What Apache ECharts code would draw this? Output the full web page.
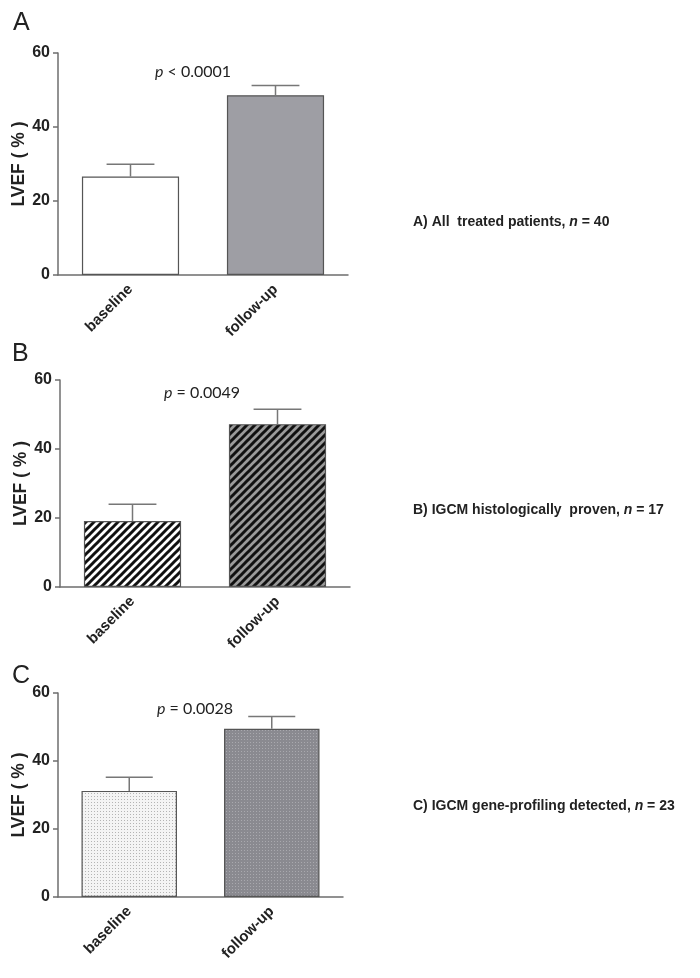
<!DOCTYPE html>
<html>
<head>
<meta charset="utf-8">
<script src="https://cdn.jsdelivr.net/npm/echarts@6/dist/echarts.min.js"></script>
<style>
html,body{margin:0;padding:0;background:#fff;}
#chart{width:700px;height:978px;}
</style>
</head>
<body>
<div id="chart"></div>
<script>
// ---- data ----
const categories = ['baseline', 'follow-up'];
const meanA = [26.6, 48.6];
const upperA = [29.9, 51.2];
const meanB = [19.1, 47.2];
const upperB = [24.0, 51.5];
const meanC = [31.2, 49.5];
const upperC = [35.2, 53.1];
const yTicks = [0, 20, 40, 60];
const yTitle = 'LVEF ( % )';
const pLabels = [' < 0.0001', ' = 0.0049', ' = 0.0028'];
const panelLetters = ['A', 'B', 'C'];
const sideLabels = [
  ['A) All  treated patients, ', ' = 40'],
  ['B) IGCM histologically  proven, ', ' = 17'],
  ['C) IGCM gene-profiling detected, ', ' = 23']
];

// ---- patterns ----
function hatch(bg, fg) {
  const c = document.createElement('canvas');
  c.width = 8; c.height = 8;
  const g = c.getContext('2d');
  g.fillStyle = bg; g.fillRect(0, 0, 8, 8);
  g.strokeStyle = fg; g.lineWidth = 3;
  for (const k of [-8, 0, 8]) {
    g.beginPath(); g.moveTo(k - 3, 11); g.lineTo(k + 11, -3); g.stroke();
  }
  return c;
}
function dots(bg, fg) {
  const c = document.createElement('canvas');
  c.width = 3; c.height = 3;
  const g = c.getContext('2d');
  g.fillStyle = bg; g.fillRect(0, 0, 3, 3);
  g.fillStyle = fg; g.fillRect(1, 1, 1, 1);
  return c;
}
const fills = [
  ['#ffffff', '#9e9ea4'],
  [{image: hatch('#ffffff', '#111111'), repeat: 'repeat'}, {image: hatch('#9a9a9a', '#111111'), repeat: 'repeat'}],
  [{image: dots('#f4f4f4', '#b4b4b4'), repeat: 'repeat'}, {image: dots('#8a8a90', '#a9a9ae'), repeat: 'repeat'}]
];

const grids = [
  {left: 58, width: 290, top: 53, height: 222},
  {left: 60, width: 290, top: 380, height: 207},
  {left: 58, width: 285, top: 693, height: 204}
];
const means = [meanA, meanB, meanC];
const uppers = [upperA, upperB, upperC];

const axisColor = '#6e6e6e';
const option = {
  animation: false,
  backgroundColor: '#ffffff',
  grid: grids.map(g => Object.assign({containLabel: false}, g)),
  xAxis: grids.map((g, i) => ({
    type: 'category', gridIndex: i, data: categories,
    axisLine: {lineStyle: {color: axisColor, width: 1.5}},
    axisTick: {alignWithLabel: true, length: 6, lineStyle: {color: axisColor, width: 1.5}},
    axisLabel: {rotate: 45, margin: 12, fontFamily: 'Liberation Sans', fontWeight: 'bold', fontSize: 15, color: '#222'}
  })),
  yAxis: grids.map((g, i) => ({
    type: 'value', gridIndex: i, min: yTicks[0], max: yTicks[yTicks.length - 1], interval: 20,
    name: yTitle, nameLocation: 'middle', nameRotate: 90, nameGap: 28,
    nameTextStyle: {fontFamily: 'Liberation Sans', fontWeight: 'bold', fontSize: 17.5, color: '#222'},
    splitLine: {show: false},
    axisLine: {show: true, lineStyle: {color: axisColor, width: 1.5}},
    axisTick: {show: true, length: 5, lineStyle: {color: axisColor, width: 1.5}},
    axisLabel: {margin: 8, fontFamily: 'Liberation Sans', fontWeight: 'bold', fontSize: 16, color: '#222'}
  })),
  series: []
};

means.forEach((m, i) => {
  option.series.push({
    type: 'bar', xAxisIndex: i, yAxisIndex: i, barWidth: '67%',
    data: m.map((v, j) => ({value: v, itemStyle: {color: fills[i][j]}})),
    itemStyle: {borderColor: '#555', borderWidth: 1.2},
    z: 2
  });
  option.series.push({
    type: 'custom', xAxisIndex: i, yAxisIndex: i,
    data: m.map((v, j) => [j, v, uppers[i][j]]),
    z: 3,
    renderItem: function (params, api) {
      const p0 = api.coord([api.value(0), api.value(1)]);
      const p1 = api.coord([api.value(0), api.value(2)]);
      const half = api.size([1, 0])[0] * 0.165;
      const st = {stroke: '#777', lineWidth: 1.5};
      return {type: 'group', children: [
        {type: 'line', shape: {x1: p0[0], y1: p0[1], x2: p1[0], y2: p1[1]}, style: st},
        {type: 'line', shape: {x1: p1[0] - half, y1: p1[1], x2: p1[0] + half, y2: p1[1]}, style: st}
      ]};
    }
  });
});

const letterPos = [[13, 11], [12, 342], [12, 664]];
const pPos = [[193, 72], [202, 393], [195, 709]];
const sidePos = [[413, 222], [413, 510], [413, 806]];
option.graphic = [];
panelLetters.forEach((L, i) => {
  option.graphic.push({type: 'text', left: letterPos[i][0], top: letterPos[i][1],
    style: {text: L, font: '25px "Liberation Sans"', fill: '#222'}});
  option.graphic.push({type: 'text', x: pPos[i][0], y: pPos[i][1],
    style: {text: '{i|p}' + pLabels[i], fill: '#222', align: 'center', verticalAlign: 'middle',
      font: '16px Lato',
      rich: {i: {fontStyle: 'italic', fontFamily: 'Lato', fontSize: 16, fill: '#222'}}}});
  option.graphic.push({type: 'text', x: sidePos[i][0], y: sidePos[i][1],
    style: {text: sideLabels[i][0] + '{i|n}' + sideLabels[i][1], fill: '#222', verticalAlign: 'middle',
      font: 'bold 14px "Liberation Sans"',
      rich: {i: {fontStyle: 'italic', fontWeight: 'bold', fontFamily: 'Liberation Sans', fontSize: 14, fill: '#222'}}}});
});

const chart = echarts.init(document.getElementById('chart'), null, {renderer: 'canvas'});
chart.setOption(option);
</script>
</body>
</html>
